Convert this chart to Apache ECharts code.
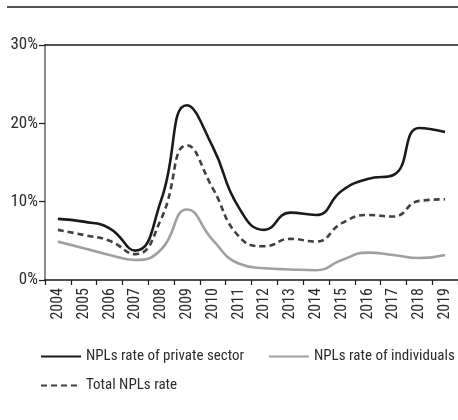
<!DOCTYPE html>
<html>
<head>
<meta charset="utf-8">
<script src="https://cdn.jsdelivr.net/npm/echarts@6/dist/echarts.min.js"></script>
<style>
  html, body { margin: 0; padding: 0; background: #fff; }
  #chart { width: 458px; height: 420px; }
</style>
</head>
<body>
<div id="chart"></div>
<script>
// Years on the category axis
const years = ['2004','2005','2006','2007','2008','2009','2010','2011',
               '2012','2013','2014','2015','2016','2017','2018','2019'];

// Non-performing loan rates, in percent
const privateSector = [7.8, 7.45, 6.6, 3.75, 10.2, 22.3, 17.0, 9.3, 6.4, 8.6, 8.3, 11.4, 12.9, 13.4, 19.4, 18.9];
const individuals   = [4.9, 4.05, 3.2, 2.55, 3.9, 9.0, 5.1, 2.1, 1.5, 1.35, 1.25, 2.55, 3.5, 3.2, 2.8, 3.2];
const totalRate     = [6.4, 5.75, 5.0, 3.3, 7.8, 17.2, 11.7, 5.6, 4.3, 5.25, 4.9, 7.25, 8.3, 8.1, 10.1, 10.3];

// Y-axis ticks
const yTicks = [0, 10, 20, 30];

const seriesNames = ['NPLs rate of private sector', 'NPLs rate of individuals', 'Total NPLs rate'];

const FONT = '"Roboto Condensed", "DejaVu Sans Condensed", sans-serif';
const TEXT = '#2b2b2b';

// One legend block per entry so each sits where it belongs
function legendAt(name, left, top) {
  return {
    left: left, top: top, padding: 0,
    itemWidth: 40, itemHeight: 14, itemGap: 0,
    itemStyle: { opacity: 0 },
    data: [name],
    textStyle: { fontFamily: FONT, fontSize: 15, color: TEXT }
  };
}

const chart = echarts.init(document.getElementById('chart'), null, { renderer: 'canvas' });

chart.setOption({
  animation: false,
  backgroundColor: '#fff',
  textStyle: { fontFamily: FONT },
  graphic: [{
    type: 'line',
    shape: { x1: 7, y1: 7, x2: 458, y2: 7 },
    style: { stroke: '#1a1a1a', lineWidth: 1.5 }
  }],
  grid: { left: 45, top: 45, width: 416, height: 235, containLabel: false },
  legend: [
    legendAt(seriesNames[0], 40, 349),
    legendAt(seriesNames[1], 268, 349),
    legendAt(seriesNames[2], 40, 378)
  ],
  xAxis: [{
    type: 'category',
    data: years,
    boundaryGap: true,
    axisLine: { lineStyle: { color: '#1a1a1a', width: 1.5 } },
    axisTick: { show: true, length: 5, lineStyle: { color: '#1a1a1a', width: 1.2 } },
    axisLabel: { rotate: 90, margin: 8, fontSize: 16, color: TEXT, fontFamily: FONT, interval: 0 },
    splitLine: { show: false }
  }, {
    type: 'category',
    position: 'top',
    data: years,
    axisLine: { lineStyle: { color: '#1a1a1a', width: 1.5 } },
    axisTick: { show: false },
    axisLabel: { show: false }
  }],
  yAxis: {
    type: 'value',
    min: yTicks[0], max: yTicks[yTicks.length - 1], interval: 10,
    axisLine: { show: true, lineStyle: { color: '#666', width: 1.5 } },
    axisTick: { show: true, length: 6, lineStyle: { color: '#1a1a1a', width: 1.2 } },
    axisLabel: { formatter: '{value}%', fontSize: 17, color: TEXT, fontFamily: FONT, margin: 7 },
    splitLine: { show: false }
  },
  series: [{
    name: seriesNames[0],
    type: 'line',
    data: privateSector,
    smooth: 0.5,
    symbol: 'none',
    lineStyle: { color: '#1a1a1a', width: 2.6 },
    itemStyle: { color: '#1a1a1a' },
    z: 3
  }, {
    name: seriesNames[1],
    type: 'line',
    data: individuals,
    smooth: 0.5,
    symbol: 'none',
    lineStyle: { color: '#a0a0a0', width: 2.6 },
    itemStyle: { color: '#a0a0a0' },
    z: 2
  }, {
    name: seriesNames[2],
    type: 'line',
    data: totalRate,
    smooth: 0.5,
    symbol: 'none',
    lineStyle: { color: '#404040', width: 2.6, type: [6, 4] },
    itemStyle: { color: '#404040' },
    z: 2
  }]
});
</script>
</body>
</html>
